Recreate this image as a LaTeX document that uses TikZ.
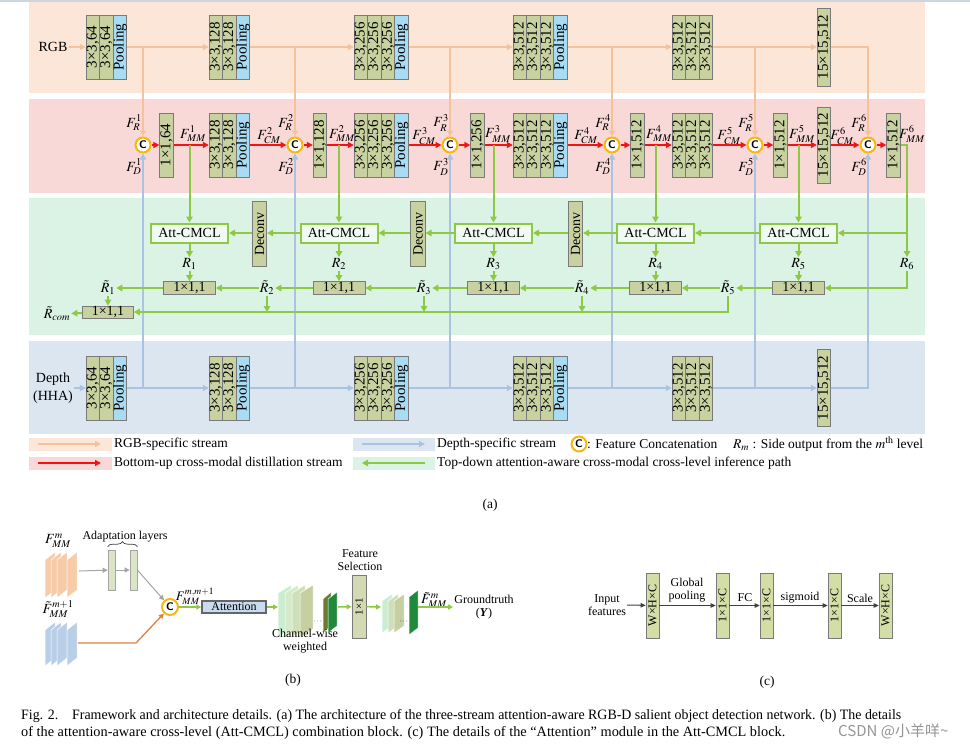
\documentclass[tikz,border=0pt]{standalone}
\usepackage{mathptmx}
\usepackage{fontspec}
\setmainfont{Liberation Serif}
\newfontfamily\cjkfont{Noto Sans CJK SC}
\usetikzlibrary{arrows.meta,decorations.pathreplacing}

\definecolor{peachband}{HTML}{FCE6D8}
\definecolor{pinkband}{HTML}{F9D9D8}
\definecolor{greenband}{HTML}{DBF3E4}
\definecolor{blueband}{HTML}{DCE6F1}
\definecolor{peachline}{HTML}{F5C39B}
\definecolor{redline}{HTML}{F01414}
\definecolor{greenline}{HTML}{8DC942}
\definecolor{blueline}{HTML}{A9C3E0}
\definecolor{olivefill}{HTML}{C8D1A0}
\definecolor{poolblue}{HTML}{A8DCF4}
\definecolor{boxborder}{HTML}{7A7A7A}
\definecolor{ringyellow}{HTML}{F6B70F}
\definecolor{sheetpeach}{HTML}{F6CBA8}
\definecolor{sheetblue}{HTML}{B9CEE7}
\definecolor{orangeline}{HTML}{E0803C}
\definecolor{grayline}{HTML}{A5A5A5}
\definecolor{adaptfill}{HTML}{DCE4C8}
\definecolor{attfill}{HTML}{C9DCEF}
\definecolor{darkgreen}{HTML}{1F8A3B}
\definecolor{darkolive}{HTML}{6E7B2E}
\definecolor{cw1}{HTML}{C9EDD1}
\definecolor{cw2}{HTML}{D4EAC9}
\definecolor{cw3}{HTML}{CDE0B8}
\definecolor{cw4}{HTML}{C6CFA2}
\definecolor{fsfill}{HTML}{D3D9B2}
\definecolor{cfill}{HTML}{D2DEA6}
\definecolor{darkarrow}{HTML}{404040}
\definecolor{topline}{HTML}{CBD6E1}
\definecolor{wmgray}{HTML}{959595}

\newcommand\rt[1]{\rotatebox{90}{#1}}
\newcommand\fsz[1]{\fontsize{#1}{#1}\selectfont}

\tikzset{
 convbox/.style={draw=boxborder, line width=0.7pt, fill=olivefill, minimum width=13.6pt, minimum height=64pt, inner sep=0pt, font=\fsz{15}},
 poolbox/.style={convbox, fill=poolblue},
 catnode/.style={circle, draw=ringyellow, line width=2pt, fill=white, minimum size=15pt, inner sep=0pt, font=\sffamily\bfseries\fsz{11}},
 pkarrow/.style={draw=peachline, line width=1.5pt, -{Triangle[length=6pt,width=6pt]}},
 blarrow/.style={draw=blueline, line width=1.5pt, -{Triangle[length=6pt,width=6pt]}},
 rdarrow/.style={draw=redline, line width=2pt, -{Triangle[length=6pt,width=6pt]}},
 grarrow/.style={draw=greenline, line width=2pt, -{Triangle[length=6pt,width=6.5pt]}},
 attbox/.style={draw=greenline, line width=2pt, fill=white!55!greenband, minimum width=77pt, minimum height=19pt, inner sep=0pt, font=\fsz{14}},
 onebox/.style={draw=boxborder, line width=0.7pt, fill=olivefill, minimum width=52pt, minimum height=13pt, inner sep=0pt, font=\fsz{14}},
 lbl/.style={inner sep=1pt, font=\fsz{14}},
 legtxt/.style={inner sep=0pt, anchor=west, font=\fsz{13.5}},
 smtxt/.style={inner sep=1pt, font=\fontsize{12}{13}\selectfont, align=center},
 gyarrow/.style={draw=grayline, line width=1pt, -{Triangle[length=5pt,width=5pt]}},
 orarrow/.style={draw=orangeline, line width=1.3pt, -{Triangle[length=5pt,width=5pt]}},
 bgarrow/.style={draw=greenline, line width=1.5pt, -{Triangle[length=5pt,width=5pt]}},
 dkarrow/.style={draw=darkarrow, line width=1pt, -{Triangle[length=5pt,width=4.5pt]}},
 cbox/.style={draw=boxborder, line width=0.7pt, fill=cfill, minimum width=13pt, minimum height=65pt, inner sep=0pt, font=\fsz{12}},
 captxt/.style={inner sep=0pt, anchor=west, font=\fsz{14.3}},
}

% #1 name, #2 x start, #3 y centre, #4 label, #5 number of conv columns, #6 pooling (1/0)
\newcommand\convstack[6]{%
 \node[minimum width={13.6*(#5+#6)}, minimum height=64pt, inner sep=0pt] (#1) at ({#2+6.8*(#5+#6)},#3) {};
 \foreach \i in {1,...,#5} {\node[convbox] (#1-\i) at ({#2+13.6*\i-6.8},#3) {\rt{#4}};}
 \ifnum#6=1 \node[poolbox] (#1-p) at ({#2+13.6*#5+6.8},#3) {\rt{Pooling}};\fi}

% sheet: x, ytop, width, height, skew, colour
\newcommand\sheet[6]{\filldraw[fill=#6, draw=white, line width=0.5pt] (#1,#2+#5) -- (#1+#3,#2) -- (#1+#3,#2+#4) -- (#1,#2+#4+#5) -- cycle;}

\begin{document}
\begin{tikzpicture}[x=1pt,y=-1pt]
\useasboundingbox (0,0) rectangle (970,747);
\fill[white] (0,0) rectangle (970,747);
\draw[topline, line width=1.5pt] (0,0.75) -- (970,0.75);

% ---------- bands ----------
\fill[peachband] (29,2) rectangle (925,93);
\fill[pinkband] (29,99) rectangle (925,193);
\fill[greenband] (29,198) rectangle (925,335);
\fill[blueband] (29,341) rectangle (925,434);

% ---------- RGB stream ----------
\node[lbl] (rgb) at (53,47) {RGB};
\convstack{ra}{86}{47}{3×3,64}{2}{1}
\convstack{rb}{209}{47}{3×3,128}{2}{1}
\convstack{rc}{354}{47}{3×3,256}{3}{1}
\convstack{rd}{513}{47}{3×3,512}{3}{1}
\convstack{re}{672}{47}{3×3,512}{3}{0}
\node[convbox, minimum height=78pt] (rf) at (824,47) {\rt{15×15,512}};

% ---------- cross-modal stream ----------
\node[catnode] (c1) at (143,145) {C};
\node[catnode] (c2) at (295,145) {C};
\node[catnode] (c3) at (450,145) {C};
\node[catnode] (c4) at (612,145) {C};
\node[catnode] (c5) at (755,145) {C};
\node[catnode] (c6) at (868,145) {C};
\node[convbox] (m1) at (166.5,145) {\rt{1×1,64}};
\convstack{mb}{209}{145}{3×3,128}{2}{1}
\node[convbox] (m2) at (320,145) {\rt{1×1,128}};
\convstack{mc}{354}{145}{3×3,256}{3}{1}
\node[convbox] (m3) at (477.5,145) {\rt{1×1,256}};
\convstack{md}{513}{145}{3×3,512}{3}{1}
\node[convbox] (m4) at (637.5,145) {\rt{1×1,512}};
\convstack{me}{672}{145}{3×3,512}{3}{0}
\node[convbox] (m5) at (780.5,145) {\rt{1×1,512}};
\node[convbox, minimum height=76pt] (mf) at (824,145) {\rt{15×15,512}};
\node[convbox] (m6) at (893.5,145) {\rt{1×1,512}};

% ---------- depth stream ----------
\node[lbl, align=center, font=\fontsize{14}{18}\selectfont] (dep) at (53,388) {Depth\\(HHA)};
\convstack{da}{86}{388}{3×3,64}{2}{1}
\convstack{db}{209}{388}{3×3,128}{2}{1}
\convstack{dc}{354}{388}{3×3,256}{3}{1}
\convstack{dd}{513}{388}{3×3,512}{3}{1}
\convstack{de}{672}{388}{3×3,512}{3}{0}
\node[convbox, minimum height=77pt] (df) at (824,388) {\rt{15×15,512}};

% ---------- inference path nodes ----------
\node[attbox] (att1) at (189.5,233) {Att-CMCL};
\node[attbox] (att2) at (339,233) {Att-CMCL};
\node[attbox] (att3) at (493.5,233) {Att-CMCL};
\node[attbox] (att4) at (655.5,233) {Att-CMCL};
\node[attbox] (att5) at (798.5,233) {Att-CMCL};
\node[convbox, minimum height=65pt, minimum width=14.5pt, font=\fsz{14}] (dc1) at (259.5,234) {\rt{Deconv}};
\node[convbox, minimum height=65pt, minimum width=14.5pt, font=\fsz{14}] (dc2) at (418,234) {\rt{Deconv}};
\node[convbox, minimum height=65pt, minimum width=14.5pt, font=\fsz{14}] (dc3) at (575.5,234) {\rt{Deconv}};
\node[lbl] (r1) at (189.5,264) {$R_1$};
\node[lbl] (r2) at (339,264) {$R_2$};
\node[lbl] (r3) at (493.5,264) {$R_3$};
\node[lbl] (r4) at (655.5,264) {$R_4$};
\node[lbl] (r5) at (798.5,264) {$R_5$};
\node[lbl] (r6) at (907,264) {$R_6$};
\node[onebox] (o1) at (189.5,288) {1×1,1};
\node[onebox] (o2) at (339,288) {1×1,1};
\node[onebox] (o3) at (493.5,288) {1×1,1};
\node[onebox] (o4) at (655.5,288) {1×1,1};
\node[onebox] (o5) at (798.5,288) {1×1,1};
\node[lbl] (t1) at (108,288) {$\tilde{R}_1$};
\node[lbl] (t2) at (267,288) {$\tilde{R}_2$};
\node[lbl] (t3) at (424,288) {$\tilde{R}_3$};
\node[lbl] (t4) at (582,288) {$\tilde{R}_4$};
\node[lbl] (t5) at (728,288) {$\tilde{R}_5$};
\node[onebox, minimum width=51pt, minimum height=12pt] (ofin) at (108,312) {1×1,1};
\node[lbl] (rcom) at (57,314) {$\tilde{R}_{com}$};

% ---------- feature labels ----------
\foreach \n/\x in {1/143,2/295,3/450,4/612,5/755,6/868}{
  \node[lbl] (fr\n) at (\x-9,123) {$F_R^{\n}$};
  \node[lbl] (fd\n) at (\x-9,167) {$F_D^{\n}$};
}
\foreach \n/\x in {2/295,3/450,4/612,5/755,6/868}{
  \node[lbl] (fc\n) at (\x-26,136) {$F_{CM}^{\n}$};
}
\foreach \n/\x in {1/193,2/342,3/498,4/659,5/802,6/912}{
  \node[lbl] (fm\n) at (\x,134) {$F_{MM}^{\n}$};
}

% ---------- RGB connectors ----------
\draw[pkarrow] (rgb.east) -- (ra.west);
\draw[pkarrow] (ra.east) -- (rb.west);
\draw[pkarrow] (rb.east) -- (rc.west);
\draw[pkarrow] (rc.east) -- (rd.west);
\draw[pkarrow] (rd.east) -- (re.west);
\draw[pkarrow] (re.east) -- (rf.west);
\draw[pkarrow] (ra.east -| c1) -- (c1);
\draw[pkarrow] (rb.east -| c2) -- (c2);
\draw[pkarrow] (rc.east -| c3) -- (c3);
\draw[pkarrow] (rd.east -| c4) -- (c4);
\draw[pkarrow] (re.east -| c5) -- (c5);
\draw[pkarrow] (rf.east) -| (c6);

% ---------- depth connectors ----------
\draw[blarrow] (dep.east |- da.west) -- (da.west);
\draw[blarrow] (da.east) -- (db.west);
\draw[blarrow] (db.east) -- (dc.west);
\draw[blarrow] (dc.east) -- (dd.west);
\draw[blarrow] (dd.east) -- (de.west);
\draw[blarrow] (de.east) -- (df.west);
\draw[blarrow] (da.east -| c1) -- (c1);
\draw[blarrow] (db.east -| c2) -- (c2);
\draw[blarrow] (dc.east -| c3) -- (c3);
\draw[blarrow] (dd.east -| c4) -- (c4);
\draw[blarrow] (de.east -| c5) -- (c5);
\draw[blarrow] (df.east) -| (c6);

% ---------- red distillation stream ----------
\draw[rdarrow] (c1) -- (m1);
\draw[rdarrow] (m1) -- (mb.west);
\draw[rdarrow] (mb.east) -- (c2);
\draw[rdarrow] (c2) -- (m2);
\draw[rdarrow] (m2) -- (mc.west);
\draw[rdarrow] (mc.east) -- (c3);
\draw[rdarrow] (c3) -- (m3);
\draw[rdarrow] (m3) -- (md.west);
\draw[rdarrow] (md.east) -- (c4);
\draw[rdarrow] (c4) -- (m4);
\draw[rdarrow] (m4) -- (me.west);
\draw[rdarrow] (me.east) -- (c5);
\draw[rdarrow] (c5) -- (m5);
\draw[rdarrow] (m5) -- (mf);
\draw[rdarrow] (mf) -- (c6);
\draw[rdarrow] (c6) -- (m6);

% ---------- green inference path ----------
\draw[grarrow] (m1.east -| att1) -- (att1);
\draw[grarrow] (m2.east -| att2) -- (att2);
\draw[grarrow] (m3.east -| att3) -- (att3);
\draw[grarrow] (m4.east -| att4) -- (att4);
\draw[grarrow] (m5.east -| att5) -- (att5);
\draw[grarrow] (m6.east) -| (r6.north);
\draw[grarrow] (att5.east -| r6) -- (att5.east);
\draw[grarrow] (att5) -- (att4);
\draw[grarrow] (att4.west) -- (att4.west -| dc3.east);
\draw[grarrow] (att4.west -| dc3.west) -- (att3.east);
\draw[grarrow] (att3.west) -- (att3.west -| dc2.east);
\draw[grarrow] (att3.west -| dc2.west) -- (att2.east);
\draw[grarrow] (att2.west) -- (att2.west -| dc1.east);
\draw[grarrow] (att2.west -| dc1.west) -- (att1.east);
\foreach \k in {1,...,5}{
  \draw[grarrow] (att\k) -- (r\k);
  \draw[grarrow] (r\k) -- (o\k);
}
\draw[grarrow] (r6.south) |- (o5.east);
\draw[grarrow] (o5) -- (t5);
\draw[grarrow] (t5) -- (o4);
\draw[grarrow] (o4) -- (t4);
\draw[grarrow] (t4) -- (o3);
\draw[grarrow] (o3) -- (t3);
\draw[grarrow] (t3) -- (o2);
\draw[grarrow] (o2) -- (t2);
\draw[grarrow] (t2) -- (o1);
\draw[grarrow] (o1) -- (t1);
\draw[grarrow] (t1) -- (ofin);
\draw[grarrow] (t5.south) |- (ofin.east);
\draw[grarrow] (t2.south) -- (t2.south |- ofin.east);
\draw[grarrow] (t3.south) -- (t3.south |- ofin.east);
\draw[grarrow] (t4.south) -- (t4.south |- ofin.east);
\draw[grarrow] (ofin) -- (rcom);

% ---------- legend ----------
\fill[peachband] (29,438) rectangle (112,451);
\fill[pinkband] (29,457) rectangle (112,470);
\fill[blueband] (353,438) rectangle (435,451);
\fill[greenband] (353,457) rectangle (435,470);
\coordinate (l1a) at (38,444); \coordinate (l1b) at (101,444);
\coordinate (l2a) at (38,463); \coordinate (l2b) at (101,463);
\coordinate (l3a) at (362,444); \coordinate (l3b) at (425,444);
\coordinate (l4a) at (362,463); \coordinate (l4b) at (425,463);
\draw[pkarrow] (l1a) -- (l1b);
\draw[rdarrow] (l2a) -- (l2b);
\draw[blarrow] (l3a) -- (l3b);
\draw[grarrow] (l4b) -- (l4a);
\node[legtxt] (lt1) at (114,444) {RGB-specific stream};
\node[legtxt] (lt2) at (114,463) {Bottom-up cross-modal distillation stream};
\node[legtxt] (lt3) at (437,444) {Depth-specific stream};
\node[legtxt] (lt4) at (437,463) {Top-down attention-aware cross-modal cross-level inference path};
\node[catnode] (cleg) at (579,444) {C};
\node[legtxt] (lt5) at (587,444) {: Feature Concatenation};
\node[legtxt] (lt6) at (733,444) {$R_m$ : Side output from the $m^{\mathrm{th}}$ level};
\node[lbl, font=\fsz{13.5}] (capa) at (490,505) {(a)};

% ---------- part (b) ----------
\node[lbl] (fmmb) at (58,541) {$F_{MM}^{m}$};
\node[lbl] (ftmb) at (58,609) {$\tilde{F}_{MM}^{m+1}$};
\sheet{45}{552}{10}{38}{8}{sheetpeach}
\sheet{51}{552}{10}{38}{8}{sheetpeach}
\sheet{57}{552}{10}{38}{8}{sheetpeach}
\sheet{67}{552}{10}{38}{8}{sheetpeach}
\sheet{45}{622}{10}{36}{8}{sheetblue}
\sheet{51}{622}{10}{36}{8}{sheetblue}
\sheet{57}{622}{10}{36}{8}{sheetblue}
\sheet{67}{622}{10}{36}{8}{sheetblue}
\node[draw=grayline, line width=0.7pt, fill=adaptfill, minimum width=7pt, minimum height=40pt, inner sep=0pt] (al1) at (111.5,570) {};
\node[draw=grayline, line width=0.7pt, fill=adaptfill, minimum width=7pt, minimum height=40pt, inner sep=0pt] (al2) at (133.5,570) {};
\draw[decorate, decoration={brace, amplitude=5pt}, line width=0.7pt, draw=darkarrow] ([yshift=3pt]al1.north west) -- ([yshift=3pt]al2.north east);
\node[smtxt] (adl) at (125,537) {Adaptation layers};
\node[catnode, minimum size=16pt] (cb) at (170,607) {C};
\coordinate (pe) at (79,571);
\coordinate (be) at (78,643);
\draw[gyarrow] (pe) -- (al1);
\draw[gyarrow] (al1) -- (al2);
\draw[gyarrow] (al2.east) -- (cb);
\draw[orarrow] (be) -- ++(58,0) -- (cb);
\node[lbl, font=\fsz{13}] (fmmn) at (195,596) {$F_{MM}^{m,m+1}$};
\node[draw=darkarrow!80, line width=1.5pt, fill=attfill, minimum width=64pt, minimum height=12pt, inner sep=0pt, font=\fsz{12}] (atn) at (234,607) {Attention};
\draw[bgarrow] (cb) -- (atn);
\coordinate (cws) at (278,607);
\draw[bgarrow] (atn) -- (cws);
\sheet{278}{585}{13}{44}{8}{cw1}
\sheet{285}{585}{13}{44}{8}{cw2}
\sheet{292}{585}{13}{44}{8}{cw3}
\sheet{300}{585}{13}{44}{8}{cw4}
\node[inner sep=0pt, font=\fsz{8}] (dots1) at (318,622) {$\cdots$};
\sheet{323}{592}{8}{34}{7}{darkolive}
\sheet{328}{592}{9}{34}{7}{darkgreen}
\node[smtxt] (cwl) at (305,641) {Channel-wise\\weighted};
\node[draw=boxborder, line width=0.7pt, fill=fsfill, minimum width=14pt, minimum height=63pt, inner sep=0pt, font=\fsz{11}] (fs) at (359,606.5) {\rt{1×1}};
\node[smtxt] (fsl) at (360,560) {Feature\\Selection};
\coordinate (cwe) at (338,607);
\coordinate (g2s) at (381,607);
\coordinate (g2e) at (418,607);
\draw[bgarrow] (cwe) -- (fs);
\draw[bgarrow] (fs) -- (g2s);
\sheet{382}{594}{10}{32}{7}{cw1}
\sheet{388}{594}{10}{32}{7}{cw3}
\sheet{394}{594}{10}{32}{7}{cw4}
\node[inner sep=0pt, font=\fsz{8}] (dots2) at (404,622) {$\cdots$};
\sheet{409}{590}{9}{38}{7}{darkgreen}
\node[lbl] (ftm) at (434,600) {$\tilde{F}_{MM}^{m}$};
\node[smtxt] (gtn) at (484,607) {Groundtruth\\(\textbf{\textit{Y}})};
\draw[bgarrow] (g2e) -- (gtn.west);
\node[lbl, font=\fsz{13.5}] (capb) at (293,680) {(b)};

% ---------- part (c) ----------
\node[cbox] (cc1) at (652.5,605.5) {\rt{W×H×C}};
\node[cbox] (cc2) at (722.5,605.5) {\rt{1×1×C}};
\node[cbox] (cc3) at (766.5,605.5) {\rt{1×1×C}};
\node[cbox] (cc4) at (834.5,605.5) {\rt{1×1×C}};
\node[cbox] (cc5) at (885.5,605.5) {\rt{W×H×C}};
\node[smtxt] (inp) at (607,605) {Input\\features};
\draw[dkarrow] (inp.east) -- (cc1);
\draw[dkarrow] (cc1) -- (cc2);
\draw[dkarrow] (cc2) -- (cc3);
\draw[dkarrow] (cc3) -- (cc4);
\draw[dkarrow] (cc4) -- (cc5);
\node[smtxt] (gp) at (687,590) {Global\\pooling};
\node[smtxt] (fc) at (745,598) {FC};
\node[smtxt] (sg) at (800,598) {sigmoid};
\node[smtxt] (sc) at (860,598) {Scale};
\node[lbl, font=\fsz{13.5}] (capc) at (767,682) {(c)};

% ---------- caption ----------
\node[captxt] (cap1) at (21,716) {\scalebox{0.972}[1]{Fig. 2.\quad Framework and architecture details. (a) The architecture of the three-stream attention-aware RGB-D salient object detection network. (b) The details}};
\node[captxt] (cap2) at (21,733) {of the attention-aware cross-level (Att-CMCL) combination block. (c) The details of the ``Attention'' module in the Att-CMCL block.};
\node[inner sep=0pt, anchor=west, text=wmgray, font=\cjkfont\fsz{15}] (wm) at (838,731) {CSDN @小羊咩\textasciitilde};
\end{tikzpicture}
\end{document}
